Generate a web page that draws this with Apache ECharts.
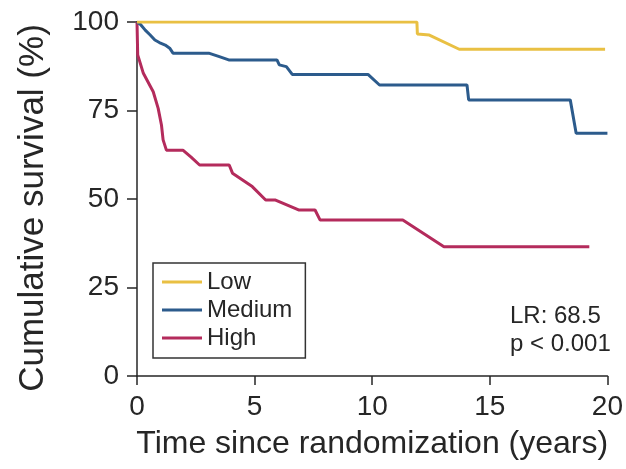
<!DOCTYPE html>
<html>
<head>
<meta charset="utf-8">
<script src="https://cdn.jsdelivr.net/npm/echarts@6/dist/echarts.min.js"></script>
<style>
  html, body { margin: 0; padding: 0; background: #ffffff; }
  #chart { width: 626px; height: 469px; }
</style>
</head>
<body>
<div id="chart"></div>
<script>
// Kaplan-Meier survival by risk group: time (years) and cumulative survival (%)
const groupNames = ['Low', 'Medium', 'High'];

const lowTimes    = [0, 11.9, 11.92, 12.43, 13.7, 19.9];
const lowSurvival = [100, 100, 96.6, 96.3, 92.3, 92.3];

const mediumTimes    = [0, 0.15, 0.35, 0.55, 0.76, 0.95, 1.2, 1.39, 1.53, 3.05, 3.5, 3.9, 5.95, 6.05, 6.35, 6.6, 9.82, 10.31, 14.03, 14.1, 18.42, 18.67, 20];
const mediumSurvival = [100, 99.3, 97.7, 96.4, 94.9, 94.2, 93.5, 92.6, 91.2, 91.2, 90.2, 89.3, 89.3, 87.9, 87.4, 85.2, 85.2, 82.2, 82.2, 78.0, 78.0, 68.6, 68.6];

const highTimes    = [0, 0.03, 0.27, 0.69, 0.9, 1.04, 1.11, 1.25, 1.95, 2.3, 2.66, 3.92, 4.06, 4.9, 5.47, 5.89, 6.87, 7.57, 7.78, 11.3, 13.05, 19.23];
const highSurvival = [100, 90.7, 85.5, 80.3, 75.6, 70.9, 66.7, 63.8, 63.8, 61.8, 59.6, 59.6, 57.3, 53.5, 49.7, 49.7, 46.9, 46.9, 44.1, 44.1, 36.5, 36.5];

const xTicks = [0, 5, 10, 15, 20];
const yTicks = [0, 25, 50, 75, 100];

const statLines = ['LR: 68.5', 'p < 0.001'];

const colors = ['#E9C043', '#2C5B8C', '#B42B5C'];

const zip = (ts, vs) => ts.map((t, i) => [t, vs[i]]);
const groups = [zip(lowTimes, lowSurvival), zip(mediumTimes, mediumSurvival), zip(highTimes, highSurvival)];

const FONT = 'Liberation Sans, Arial, Helvetica, sans-serif';
const INK = '#262626';

const chart = echarts.init(document.getElementById('chart'), null, { renderer: 'canvas' });

chart.setOption({
  backgroundColor: '#ffffff',
  animation: false,
  grid: { left: 137, right: 14.5, top: 22, bottom: 93, containLabel: false },
  xAxis: {
    type: 'value',
    min: xTicks[0],
    max: xTicks[xTicks.length - 1],
    interval: xTicks[1] - xTicks[0],
    name: 'Time since randomization (years)',
    nameLocation: 'middle',
    nameGap: 52,
    nameTextStyle: { fontFamily: FONT, fontSize: 32, color: INK },
    axisLine: { show: true, lineStyle: { color: INK, width: 1.5 } },
    axisTick: { show: true, inside: false, length: 9, lineStyle: { color: INK, width: 1.5 } },
    axisLabel: { fontFamily: FONT, fontSize: 28, color: INK, margin: 17 },
    splitLine: { show: false }
  },
  yAxis: {
    type: 'value',
    min: yTicks[0],
    max: yTicks[yTicks.length - 1],
    interval: yTicks[1] - yTicks[0],
    axisLine: { show: true, lineStyle: { color: INK, width: 1.5 } },
    axisTick: { show: true, inside: false, length: 10, lineStyle: { color: INK, width: 1.5 } },
    axisLabel: { fontFamily: FONT, fontSize: 28, color: INK, margin: 18 },
    splitLine: { show: false }
  },
  legend: {
    orient: 'vertical',
    left: 153,
    top: 263,
    padding: [7, 13, 8, 9],
    itemGap: 4,
    itemWidth: 40,
    itemHeight: 3,
    icon: 'rect',
    borderColor: '#333333',
    borderWidth: 1.5,
    borderRadius: 0,
    backgroundColor: '#ffffff',
    textStyle: { fontFamily: FONT, fontSize: 24, color: INK },
    data: groupNames
  },
  graphic: [
    {
      type: 'text',
      x: 33,
      y: 208,
      rotation: Math.PI / 2,
      style: {
        text: 'Cumulative survival (%)',
        fontFamily: FONT,
        fontSize: 35,
        fill: INK,
        textAlign: 'center',
        textVerticalAlign: 'middle'
      }
    },
    {
      type: 'text',
      left: 510,
      top: 302,
      style: {
        text: statLines.join('\n'),
        fontFamily: FONT,
        fontSize: 24,
        lineHeight: 28,
        fill: INK
      }
    }
  ],
  series: groups.map((data, i) => ({
    name: groupNames[i],
    type: 'line',
    data: data,
    symbol: 'none',
    smooth: false,
    z: 3 - i,
    lineStyle: { color: colors[i], width: 3 },
    itemStyle: { color: colors[i] }
  }))
});
</script>
</body>
</html>
